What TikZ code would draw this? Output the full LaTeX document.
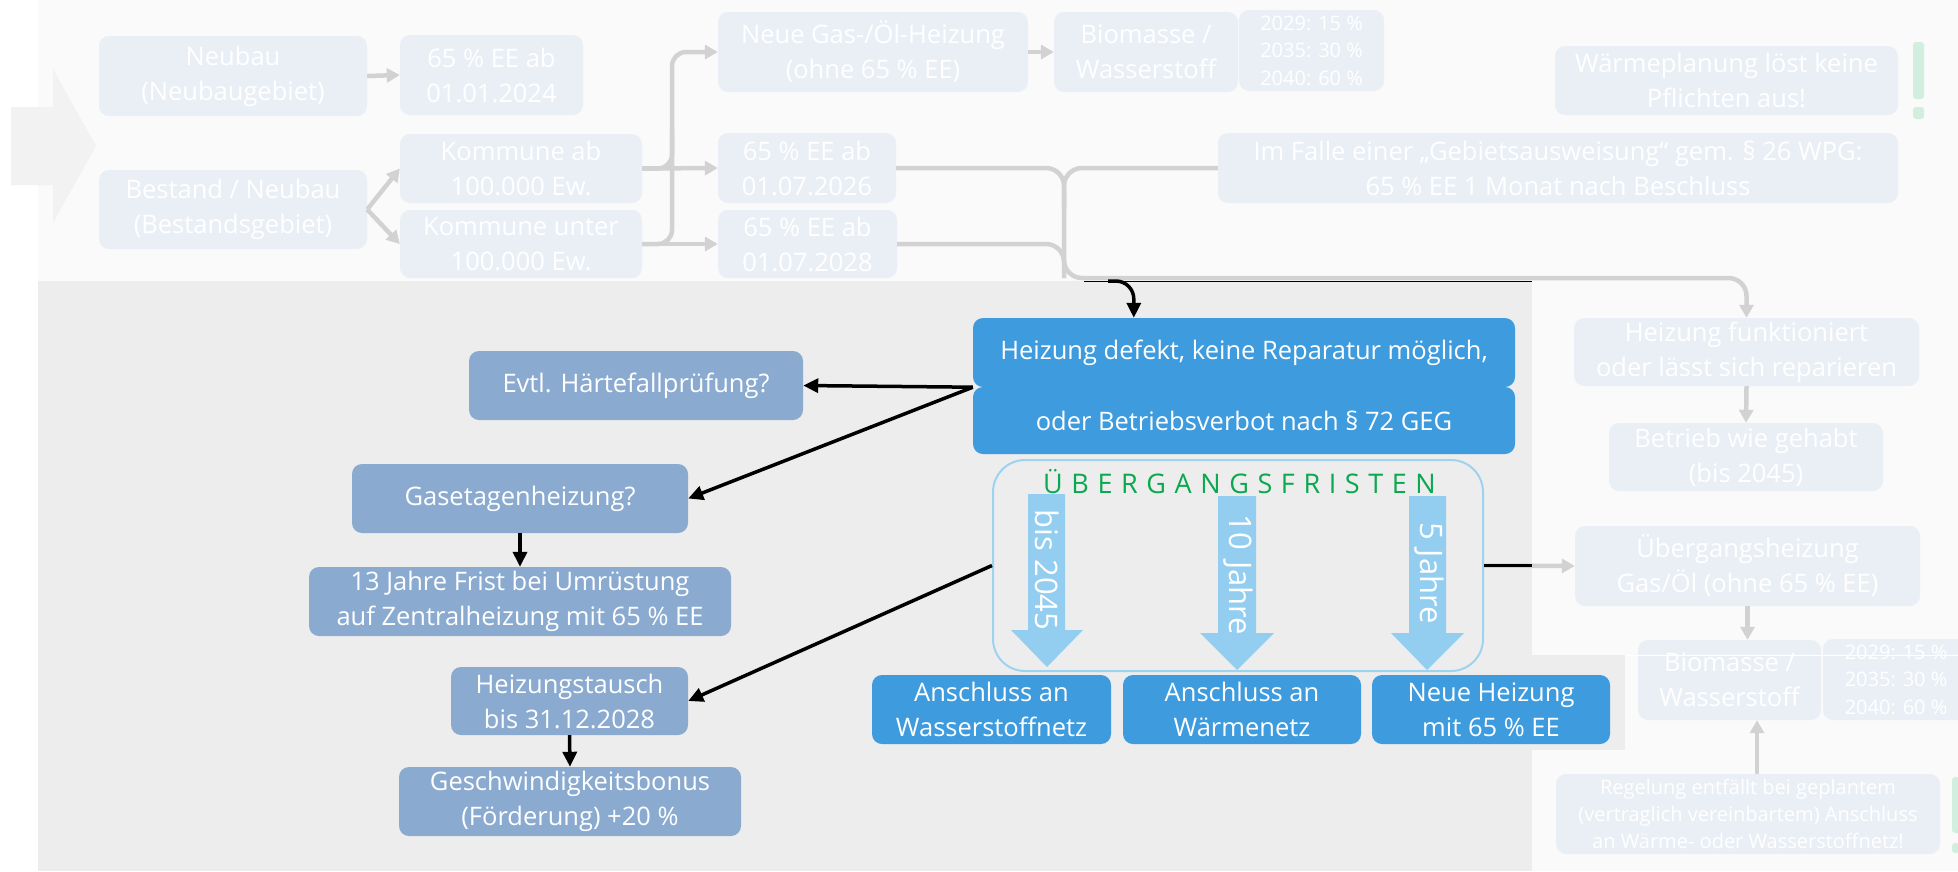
\documentclass[tikz,border=0pt]{standalone}
\usepackage{fontspec}
\setmainfont{Open Sans}
\usetikzlibrary{arrows.meta,calc}

\definecolor{topbg}{HTML}{FAFAFA}
\definecolor{panel}{HTML}{EDEDED}
\definecolor{fadebox}{HTML}{EAEFF6}
\definecolor{fadeline}{HTML}{D2D2D2}
\definecolor{steel}{HTML}{8AAAD0}
\definecolor{azure}{HTML}{3D9BDE}
\definecolor{sky}{HTML}{93CEF0}
\definecolor{frameblue}{HTML}{9ED3F0}
\definecolor{titlegreen}{HTML}{0AA84F}
\definecolor{fadegreen}{HTML}{D2EEDF}
\definecolor{chev}{HTML}{F2F2F2}

\newcommand\fsz[2]{\fontsize{#1pt}{#2pt}\selectfont}
\newcommand\ls{\kern 8.6pt}

\tikzset{
  basebox/.style={rounded corners=10pt, text=white, align=center, inner sep=0pt, font=\fsz{25.5}{35}},
  fbox/.style={basebox, fill=fadebox},
  sbox/.style={basebox, fill=steel},
  abox/.style={basebox, fill=azure},
  gline/.style={draw=fadeline, line width=4.5pt},
  garrow/.style={gline, -{Triangle[length=13pt,width=14pt]}},
  bline/.style={draw=black, line width=3.5pt},
  barrow/.style={bline, -{Triangle[length=15pt,width=14pt]}},
  bigarrow/.style={fill=sky},
  vlabel/.style={rotate=-90, text=white, inner sep=0pt, font=\fsz{31}{38}},
  bang/.style={fill=fadegreen, rounded corners=3pt},
}

\begin{document}
\begin{tikzpicture}[x=1pt,y=-1pt]
\useasboundingbox (0,0) rectangle (1958,871);
\clip (0,0) rectangle (1958,871);

% backgrounds
\fill[white] (0,0) rectangle (1958,871);
\fill[topbg] (38,0) rectangle (1958,281);
\fill[topbg] (1532,281) rectangle (1958,871);
\fill[panel] (38,281) rectangle (1532,871);
\fill[panel] (1532,655) rectangle (1625,750);

% entry chevron
\fill[chev] (11,107) -- (53,107) -- (53,69) -- (96,146) -- (53,223) -- (53,185) -- (11,185) -- cycle;

% ---------- upper (faded) row ----------
\node[fbox, minimum width=268pt, minimum height=80pt] (neubau) at (233,76) {Neubau\\(Neubaugebiet)};
\node[fbox, minimum width=183pt, minimum height=80pt] (ee24) at (491.5,75) {65 \% EE ab\\01.01.2024};
\node[fbox, minimum width=268pt, minimum height=79pt] (bestand) at (233,209.5) {Bestand / Neubau\\(Bestandsgebiet)};
\node[fbox, minimum width=242pt, minimum height=69pt] (kommab) at (521,168.5) {Kommune ab\\100.000 Ew.};
\node[fbox, minimum width=242pt, minimum height=68pt] (kommunter) at (521,244) {Kommune unter\\100.000 Ew.};
\node[fbox, minimum width=310pt, minimum height=80pt] (gas) at (873,52) {Neue Gas-/Öl-Heizung\\(ohne 65 \% EE)};
\node[fbox, minimum width=184pt, minimum height=80pt] (biotop) at (1146,52) {Biomasse /\\Wasserstoff};
\node[fbox, minimum width=145pt, minimum height=81pt, font=\fsz{20}{27.5}] (pcttop) at (1311.5,50.5) {2029: 15 \%\\2035: 30 \%\\2040: 60 \%};
\node[fbox, minimum width=178pt, minimum height=70pt] (ee26) at (807,168) {65 \% EE ab\\01.07.2026};
\node[fbox, minimum width=179pt, minimum height=68pt] (ee28) at (807.5,244) {65 \% EE ab\\01.07.2028};
\node[fbox, minimum width=680pt, minimum height=70pt] (imfalle) at (1558,168) {Im Falle einer „Gebietsausweisung“ gem. § 26 WPG:\\65 \% EE 1 Monat nach Beschluss};
\node[fbox, minimum width=343pt, minimum height=69pt] (waerme) at (1726.5,80.5) {Wärmeplanung löst keine\\Pflichten aus!};
\fill[bang] (1913,42) rectangle (1924,99);
\fill[bang] (1913,107) rectangle (1924,119);

% ---------- right (faded) column ----------
\node[fbox, minimum width=345pt, minimum height=68pt] (funkt) at (1746.5,352) {Heizung funktioniert\\oder lässt sich reparieren};
\node[fbox, minimum width=274pt, minimum height=68pt] (betrieb) at (1746,457) {Betrieb wie gehabt\\(bis 2045)};
\node[fbox, minimum width=345pt, minimum height=80pt] (uebergang) at (1747.5,566) {Übergangsheizung\\Gas/Öl (ohne 65 \% EE)};
\node[fbox, minimum width=183pt, minimum height=80pt] (bior) at (1729.5,680) {Biomasse /\\Wasserstoff};
\node[fbox, minimum width=146pt, minimum height=81pt, font=\fsz{20}{27.5}] (pctr) at (1896,679.5) {2029: 15 \%\\2035: 30 \%\\2040: 60 \%};
\node[fbox, minimum width=384pt, minimum height=80pt, font=\fsz{20}{27}] (regelung) at (1748,814) {Regelung entfällt bei geplantem\\(vertraglich vereinbartem) Anschluss\\an Wärme- oder Wasserstoffnetz!};
\fill[bang] (1952,777) rectangle (1966,833);
\fill[bang] (1952,843) rectangle (1966,853);
\draw[white, line width=1pt] (1625,655) -- (1958,655);

% ---------- highlighted panel ----------
\node[abox, minimum width=542pt, minimum height=69pt] (defa) at (1244,352.5) {Heizung defekt, keine Reparatur möglich,};
\node[abox, minimum width=542pt, minimum height=67pt] (defb) at (1244,420.5) {oder Betriebsverbot nach § 72 GEG};

\node[sbox, minimum width=334pt, minimum height=69pt] (haerte) at (636,385.5) {Evtl. Härtefallprüfung?};
\node[sbox, minimum width=336pt, minimum height=69pt] (gasetage) at (520,498.5) {Gasetagenheizung?};
\node[sbox, minimum width=422pt, minimum height=69pt] (frist13) at (520,601.5) {13 Jahre Frist bei Umrüstung\\auf Zentralheizung mit 65 \% EE};
\node[sbox, minimum width=237pt, minimum height=68pt] (tausch) at (569.5,701) {Heizungstausch\\bis 31.12.2028};
\node[sbox, minimum width=342pt, minimum height=69pt] (bonus) at (570,801.5) {Geschwindigkeitsbonus\\(Förderung) +20 \%};

% transition periods frame with its three arrows
\node[draw=frameblue, line width=2pt, rounded corners=32pt, minimum width=490pt, minimum height=211pt, inner sep=0pt] (frame) at (1238,565.5) {};
\node[text=titlegreen, inner sep=0pt, font=\fsz{27}{32}] (title) at (1239.5,482)
  {Ü\ls B\ls E\ls R\ls G\ls A\ls N\ls G\ls S\ls F\ls R\ls I\ls S\ls T\ls E\ls N};
\fill[bigarrow] (1028,494) -- (1065,494) -- (1065,630) -- (1083,630) -- (1047,667) -- (1011,630) -- (1028,630) -- cycle;
\fill[bigarrow] (1218,496) -- (1256,496) -- (1256,633) -- (1274,633) -- (1237,670) -- (1200,633) -- (1218,633) -- cycle;
\fill[bigarrow] (1409,496) -- (1446,496) -- (1446,633) -- (1464,633) -- (1427,670) -- (1391,633) -- (1409,633) -- cycle;
\node[vlabel] (lab45) at (1047,570) {bis 2045};
\node[vlabel] (lab10) at (1238,575) {10\kern3pt{} Jahre};
\node[vlabel] (lab5) at (1429,573) {5\kern2pt{} Jahre};

\node[abox, minimum width=239pt, minimum height=69pt] (anschh) at (991.5,709.5) {Anschluss an\\Wasserstoffnetz};
\node[abox, minimum width=238pt, minimum height=69pt] (anschw) at (1242,709.5) {Anschluss an\\Wärmenetz};
\node[abox, minimum width=238pt, minimum height=69pt] (neueh) at (1491,709.5) {Neue Heizung\\mit 65 \% EE};

% ---------- connectors, upper row ----------
\coordinate (busl) at (672,0);
\coordinate (busr) at (1064,278);
\coordinate (edge) at (1532,0);
\coordinate (tap) at (1108,281);
\coordinate (defin) at ($(defa.north west)+(161,0)$);
\coordinate (regup) at ($(regelung.north)+(9,0)$);

\draw[garrow] (neubau.east) -- (ee24.west);
\draw[garrow] (bestand.east) -- (kommab.west);
\draw[garrow] (bestand.east) -- (kommunter.west);
\draw[garrow] (kommab.east) -- (ee26.west);
\draw[garrow] (kommunter.east) -- (ee28.west);
\draw[garrow, rounded corners=14pt] (kommunter.east) -- (kommunter.east -| busl) -- (gas.west -| busl) -- (gas.west);
\draw[gline, rounded corners=14pt] (kommab.east) -- (kommab.east -| busl) -- ($(kommab.east -| busl)+(0,-40)$);
\draw[garrow] (gas.east) -- (biotop.west);

\draw[garrow, rounded corners=18pt] (ee26.east) -- (ee26.east -| busr) -- (busr) -- (busr -| funkt.north) -- (funkt.north);
\draw[gline, rounded corners=18pt] (ee28.east) -- (ee28.east -| busr) -- (busr);
\draw[gline, rounded corners=18pt] (imfalle.west) -- (imfalle.west -| busr) -- ($(imfalle.west -| busr)+(0,40)$);
\draw[black, line width=1.6pt] ($(busr)+(20,3.5)$) -- ($(busr -| edge)+(0,3.5)$);

% ---------- connectors, right column ----------
\draw[garrow] (funkt.south) -- (betrieb.north);
\draw[garrow] (uebergang.south) -- (uebergang.south |- bior.north);
\draw[garrow] (regup) -- (regup |- bior.south);
\draw[garrow] (frame.east) -- (uebergang.west);
\draw[bline] (frame.east) -- (frame.east -| edge);

% ---------- connectors, highlighted panel ----------
\draw[barrow, rounded corners=18pt] (tap) -- (tap -| defin) -- (defin);
\draw[barrow] (defa.south west) -- (haerte.east);
\draw[barrow] (defa.south west) -- (gasetage.east);
\draw[barrow] (gasetage.south) -- (frist13.north);
\draw[barrow] (frame.west) -- (tausch.east);
\draw[barrow] (tausch.south) -- (bonus.north);
\end{tikzpicture}
\end{document}
